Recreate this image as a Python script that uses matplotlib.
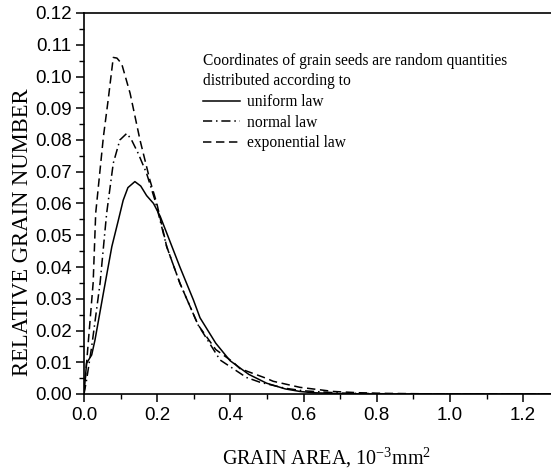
import matplotlib
matplotlib.use("Agg")
import matplotlib.pyplot as plt
from matplotlib.ticker import MultipleLocator, FormatStrFormatter

# ---- data ----
x_uniform = [0.0, 0.007, 0.021, 0.030, 0.053, 0.076, 0.094, 0.107, 0.120, 0.139,
             0.155, 0.171, 0.190, 0.208, 0.226, 0.262, 0.299, 0.317, 0.36, 0.399,
             0.45, 0.499, 0.55, 0.59, 0.626, 0.70, 0.80, 0.90, 1.00, 1.10, 1.28]
y_uniform = [0.0, 0.0097, 0.0123, 0.017, 0.0318, 0.0464, 0.0548, 0.061, 0.0650, 0.0669,
             0.0655, 0.0625, 0.0600, 0.0560, 0.0507, 0.0400, 0.0296, 0.0240, 0.0160, 0.0105,
             0.0062, 0.0034, 0.0016, 0.0008, 0.0004, 0.0001, 0.0, 0.0, 0.0, 0.0, 0.0]

x_normal = [0.0, 0.007, 0.021, 0.044, 0.057, 0.062, 0.080, 0.098, 0.117, 0.130,
            0.148, 0.171, 0.194, 0.226, 0.262, 0.290, 0.312, 0.362, 0.372, 0.444,
            0.481, 0.55, 0.60, 0.70, 0.80, 0.90, 1.00, 1.10, 1.28]
y_normal = [0.0, 0.0044, 0.0149, 0.035, 0.051, 0.057, 0.0727, 0.080, 0.0821, 0.0800,
            0.0758, 0.0695, 0.0610, 0.0464, 0.0349, 0.0275, 0.0217, 0.0125, 0.0107, 0.0052,
            0.0037, 0.0018, 0.0010, 0.0003, 0.0001, 0.0, 0.0, 0.0, 0.0]

x_expon = [0.0, 0.007, 0.025, 0.032, 0.053, 0.066, 0.080, 0.090, 0.103, 0.126,
           0.153, 0.180, 0.199, 0.226, 0.262, 0.290, 0.312, 0.36, 0.408, 0.426,
           0.499, 0.517, 0.590, 0.681, 0.75, 0.82, 0.90, 1.00, 1.10, 1.28]
y_expon = [0.0, 0.0097, 0.035, 0.057, 0.081, 0.0926, 0.1060, 0.1058, 0.1040, 0.0947,
           0.0800, 0.0674, 0.0600, 0.0464, 0.0349, 0.0275, 0.0217, 0.0140, 0.0100, 0.0080,
           0.0049, 0.0040, 0.0021, 0.0008, 0.0004, 0.0002, 0.0001, 0.0, 0.0, 0.0]

series_labels = ["uniform law", "normal law", "exponential law"]
legend_title = "Coordinates of grain seeds are random quantities\ndistributed according to"
x_label = r"GRAIN AREA, 10$^{\mathregular{-3}}$mm$^{\mathregular{2}}$"
y_label = "RELATIVE GRAIN NUMBER"

# ---- figure ----
plt.rcParams['mathtext.fontset'] = 'custom'
plt.rcParams['mathtext.rm'] = 'Liberation Serif'
fig = plt.figure(figsize=(5.51, 4.72), dpi=100)
ax = fig.add_axes([84 / 551, 1 - 394 / 472, 1 - 84 / 551, (394 - 13) / 472])

lw = 1.1
ax.plot(x_uniform, y_uniform, color='black', lw=lw, linestyle='-', label=series_labels[0])
ax.plot(x_normal, y_normal, color='black', lw=lw, linestyle=(0, (6, 2.5, 1, 2.5)), label=series_labels[1])
ax.plot(x_expon, y_expon, color='black', lw=lw, linestyle=(0, (5.5, 3)), label=series_labels[2])

ax.set_xlim(0, 1.276)
ax.set_ylim(0, 0.12)

ax.xaxis.set_major_locator(MultipleLocator(0.2))
ax.xaxis.set_minor_locator(MultipleLocator(0.1))
ax.yaxis.set_major_locator(MultipleLocator(0.01))
ax.yaxis.set_minor_locator(MultipleLocator(0.005))
ax.xaxis.set_major_formatter(FormatStrFormatter('%.1f'))
ax.yaxis.set_major_formatter(FormatStrFormatter('%.2f'))

ax.spines['right'].set_visible(False)
for s in ['left', 'bottom', 'top']:
    ax.spines[s].set_linewidth(1.2)

ax.tick_params(which='major', direction='out', length=6, width=1.1,
               labelsize=13.5, labelfontfamily='Liberation Sans', pad=3)
ax.tick_params(which='minor', direction='out', length=3.5, width=1.0)
ax.tick_params(top=False, right=False, which='both')

ax.set_xlabel(x_label, family='Liberation Serif', fontsize=14.5)
ax.set_ylabel(y_label, family='Liberation Serif', fontsize=16.3)
ax.xaxis.set_label_coords(0.52, -0.134)
ax.yaxis.set_label_coords(-0.110, 0.425)

leg = ax.legend(title=legend_title, loc='upper left', bbox_to_anchor=(0.255, 0.895),
                frameon=False, alignment='left', handlelength=2.4, handletextpad=0.45,
                labelspacing=0.3, borderpad=0, borderaxespad=0,
                prop={'family': 'Liberation Serif', 'size': 11.2},
                title_fontproperties={'family': 'Liberation Serif', 'size': 11.2})
leg.get_title().set_linespacing(1.3)
leg._legend_box.sep = 4

fig.savefig("out.png", dpi=100)
